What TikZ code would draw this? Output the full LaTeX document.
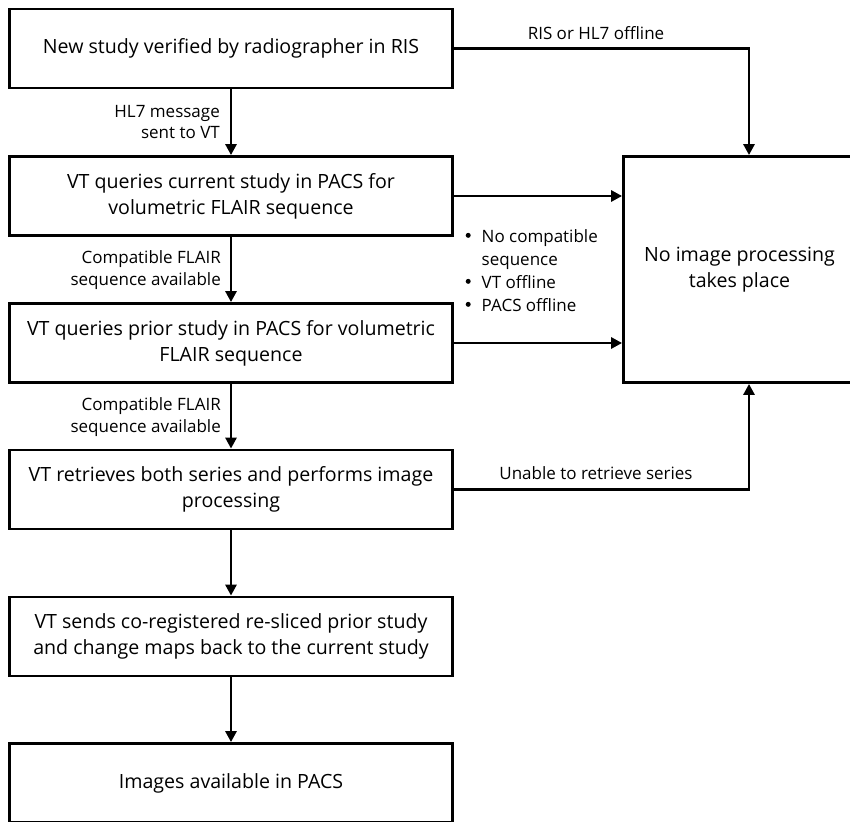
\documentclass[tikz,border=0pt]{standalone}
\usepackage{fontspec}
\setmainfont{Open Sans}
\usetikzlibrary{arrows.meta}
\newcommand{\mybul}{\raisebox{0.28em}{\tikz\fill (0,0) circle (2.5pt);}}
\begin{document}
\begin{tikzpicture}[x=1pt,y=-1pt,
  box/.style={draw,line width=2.8pt,minimum width=443pt,minimum height=79pt,inner sep=0pt,align=center,font=\fontsize{19.6}{26}\selectfont},
  lbl/.style={inner sep=0pt,font=\fontsize{17}{21.5}\selectfont},
  arr/.style={line width=2.8pt,-{Triangle[width=11pt,length=11pt]}}]
\useasboundingbox (0,0) rectangle (850,821);
\clip (0,0) rectangle (850,821);
\fill[white] (0,0) rectangle (850,821);
\node[box] (b1) at (231,48.5) {New study verified by radiographer in RIS};
\node[box] (b2) at (231,196) {VT queries current study in PACS for\\volumetric FLAIR sequence};
\node[box] (b3) at (231,343) {VT queries prior study in PACS for volumetric\\FLAIR sequence};
\node[box] (b4) at (231,489.5) {VT retrieves both series and performs image\\processing};
\node[box] (b5) at (231,636.5) {VT sends co-registered re-sliced prior study\\and change maps back to the current study};
\node[box] (b6) at (231,783) {Images available in PACS};
\node[box,minimum width=232pt,minimum height=226pt] (nip) at (739.5,269.5) {No image processing\\takes place};
\coordinate (ntop) at ([xshift=9.5pt]nip.north);
\coordinate (nbot) at ([xshift=9.5pt]nip.south);
\draw[arr] (b1) -- (b2);
\draw[arr] (b2) -- (b3);
\draw[arr] (b3) -- (b4);
\draw[arr] (b4) -- (b5);
\draw[arr] (b5) -- (b6);
\draw[arr] (b1.east) -| (ntop);
\draw[arr] (b4.east) -| (nbot);
\draw[arr] (b2.east) -- (b2.east -| nip.west);
\draw[arr] (b3.east) -- (b3.east -| nip.west);
\node[lbl] (l1) at (596,33) {RIS or HL7 offline};
\node[lbl] (l2) at (596,473) {Unable to retrieve series};
\node[lbl,align=right,anchor=east] (l3) at (220,122) {HL7 message\\sent to VT};
\node[lbl,align=right,anchor=east] (l4) at (221,270) {Compatible FLAIR\\sequence available};
\node[lbl,align=right,anchor=east] (l5) at (221,417) {Compatible FLAIR\\sequence available};
\node[lbl,anchor=west,font=\fontsize{17}{23}\selectfont] (l6) at (465.5,272.5) {\begin{tabular}{@{}l@{\hspace{11pt}}l@{}}\mybul & No compatible\\ & sequence\\ \mybul & VT offline\\ \mybul & PACS offline\end{tabular}};
\end{tikzpicture}
\end{document}
